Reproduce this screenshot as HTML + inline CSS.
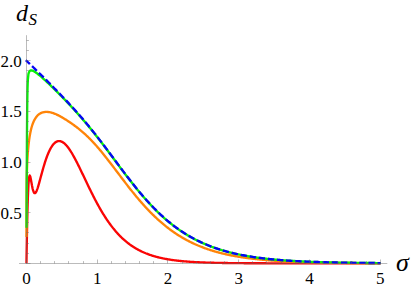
<!DOCTYPE html>
<html><head><meta charset="utf-8"><title>plot</title>
<style>html,body{margin:0;padding:0;background:#fff;}body{width:415px;height:290px;position:relative;overflow:hidden;font-family:"Liberation Serif",serif;}</style>
</head><body>
<svg width="415" height="290" viewBox="0 0 415 290" style="position:absolute;left:0;top:0">
<g fill="none" stroke-width="2.35" stroke-linejoin="round" stroke-linecap="butt">
<path d="M26.45 263.35 L26.45 263.35 L26.45 263.04 L26.46 262.73 L26.46 262.42 L26.47 262.10 L26.47 261.79 L26.48 261.45 L26.48 261.15 L26.49 260.80 L26.49 260.46 L26.50 260.08 L26.51 259.75 L26.51 259.38 L26.52 259.07 L26.52 258.75 L26.53 258.40 L26.53 258.02 L26.54 257.62 L26.55 257.18 L26.55 256.87 L26.56 256.55 L26.56 256.21 L26.57 255.86 L26.57 255.49 L26.58 255.10 L26.59 254.69 L26.59 254.26 L26.60 253.82 L26.61 253.35 L26.62 252.86 L26.63 252.34 L26.63 251.80 L26.64 251.24 L26.65 250.65 L26.66 250.35 L26.66 250.03 L26.67 249.71 L26.68 249.39 L26.68 249.06 L26.69 248.71 L26.69 248.37 L26.70 248.01 L26.71 247.64 L26.71 247.27 L26.72 246.89 L26.72 246.50 L26.73 246.10 L26.74 245.70 L26.75 245.28 L26.75 244.86 L26.76 244.43 L26.77 243.98 L26.78 243.53 L26.79 243.07 L26.79 242.60 L26.80 242.12 L26.81 241.62 L26.82 241.12 L26.83 240.61 L26.84 240.09 L26.85 239.56 L26.86 239.01 L26.87 238.46 L26.88 237.89 L26.89 237.32 L26.90 236.73 L26.91 236.13 L26.92 235.52 L26.94 234.89 L26.95 234.26 L26.96 233.61 L26.97 232.96 L26.99 232.29 L27.00 231.60 L27.01 230.91 L27.03 230.20 L27.04 229.48 L27.06 228.75 L27.07 228.01 L27.09 227.25 L27.11 226.49 L27.12 225.71 L27.14 224.91 L27.16 224.11 L27.17 223.29 L27.19 222.46 L27.21 221.62 L27.23 220.77 L27.25 219.91 L27.27 219.03 L27.29 218.14 L27.31 217.25 L27.33 216.34 L27.36 215.42 L27.38 214.49 L27.40 213.55 L27.42 212.60 L27.45 211.65 L27.47 210.68 L27.50 209.71 L27.53 208.73 L27.55 207.74 L27.58 206.75 L27.61 205.75 L27.64 204.74 L27.67 203.74 L27.70 202.73 L27.73 201.71 L27.76 200.70 L27.80 199.69 L27.83 198.67 L27.86 197.66 L28.45 184.44 L29.04 177.60 L29.63 175.45 L30.22 176.36 L30.81 178.97 L31.40 182.28 L31.99 185.58 L32.58 188.45 L33.17 190.69 L33.75 192.20 L34.34 193.01 L34.93 193.18 L35.52 192.78 L36.11 191.91 L36.70 190.67 L37.29 189.12 L37.88 187.34 L38.47 185.39 L39.05 183.32 L39.64 181.18 L40.23 179.00 L40.82 176.80 L41.41 174.61 L42.00 172.45 L42.59 170.33 L43.18 168.26 L43.77 166.24 L44.36 164.30 L44.94 162.42 L45.53 160.62 L46.12 158.89 L46.71 157.24 L47.30 155.68 L47.89 154.20 L48.48 152.79 L49.07 151.48 L49.66 150.24 L50.24 149.09 L50.83 148.01 L51.42 147.02 L52.01 146.11 L52.60 145.28 L53.19 144.53 L53.78 143.85 L54.37 143.26 L54.96 142.73 L55.55 142.29 L56.13 141.91 L56.72 141.60 L57.31 141.37 L57.90 141.20 L58.49 141.11 L59.08 141.07 L59.67 141.10 L60.26 141.19 L60.85 141.35 L61.43 141.56 L62.02 141.83 L62.61 142.15 L63.20 142.53 L63.79 142.96 L64.38 143.44 L64.97 143.97 L65.56 144.55 L66.15 145.17 L66.74 145.83 L67.32 146.54 L67.91 147.28 L68.50 148.07 L69.09 148.89 L69.68 149.74 L70.27 150.63 L70.86 151.55 L71.45 152.50 L72.04 153.47 L72.62 154.47 L73.21 155.50 L73.80 156.55 L74.39 157.62 L74.98 158.72 L75.57 159.83 L76.16 160.95 L76.75 162.10 L77.34 163.26 L77.93 164.43 L78.51 165.61 L79.10 166.81 L79.69 168.01 L80.28 169.22 L80.87 170.44 L81.46 171.66 L82.05 172.89 L82.64 174.12 L83.23 175.36 L83.81 176.60 L84.40 177.83 L84.99 179.07 L85.58 180.31 L86.17 181.55 L86.76 182.78 L87.35 184.01 L87.94 185.23 L88.53 186.45 L89.12 187.67 L89.70 188.88 L90.29 190.08 L90.88 191.28 L91.47 192.47 L92.06 193.65 L92.65 194.82 L93.24 195.98 L93.83 197.13 L94.42 198.27 L95.00 199.41 L95.59 200.53 L96.18 201.64 L96.77 202.74 L97.36 203.83 L97.95 204.90 L98.54 205.97 L99.13 207.02 L99.72 208.06 L100.31 209.09 L100.89 210.10 L101.48 211.11 L102.07 212.10 L102.66 213.07 L103.25 214.03 L103.84 214.98 L104.43 215.92 L105.02 216.84 L105.61 217.75 L106.20 218.65 L106.78 219.54 L107.37 220.41 L107.96 221.26 L108.55 222.11 L109.14 222.94 L109.73 223.75 L110.32 224.56 L110.91 225.35 L111.50 226.13 L112.08 226.89 L112.67 227.65 L113.26 228.39 L113.85 229.11 L114.44 229.83 L115.03 230.53 L115.62 231.22 L116.21 231.90 L116.80 232.56 L117.39 233.22 L117.97 233.86 L118.56 234.49 L119.15 235.11 L119.74 235.71 L120.33 236.31 L120.92 236.89 L121.51 237.47 L122.10 238.03 L122.69 238.58 L123.27 239.12 L123.86 239.65 L124.45 240.17 L125.04 240.68 L125.63 241.18 L126.22 241.67 L126.81 242.15 L127.40 242.63 L127.99 243.09 L128.58 243.54 L129.16 243.98 L129.75 244.42 L130.34 244.84 L130.93 245.26 L131.52 245.67 L132.11 246.07 L132.70 246.46 L133.29 246.84 L133.88 247.22 L134.46 247.58 L135.05 247.94 L135.64 248.30 L136.23 248.64 L136.82 248.98 L137.41 249.31 L138.00 249.63 L138.59 249.95 L139.18 250.26 L139.77 250.56 L140.35 250.85 L140.94 251.14 L141.53 251.43 L142.12 251.71 L142.71 251.98 L143.30 252.24 L143.89 252.50 L144.48 252.75 L145.07 253.00 L145.65 253.25 L146.24 253.48 L146.83 253.71 L147.42 253.94 L148.01 254.16 L148.60 254.38 L149.19 254.59 L149.78 254.80 L150.37 255.00 L150.96 255.20 L151.54 255.39 L152.13 255.58 L152.72 255.77 L153.31 255.95 L153.90 256.12 L154.49 256.30 L155.08 256.47 L155.67 256.63 L156.26 256.79 L156.84 256.95 L157.43 257.10 L158.02 257.25 L158.61 257.40 L159.20 257.54 L159.79 257.68 L160.38 257.82 L160.97 257.95 L161.56 258.08 L162.15 258.21 L162.73 258.33 L163.32 258.46 L163.91 258.57 L164.50 258.69 L165.09 258.80 L165.68 258.91 L166.27 259.02 L166.86 259.13 L167.45 259.23 L168.03 259.33 L168.62 259.43 L169.21 259.52 L169.80 259.62 L170.39 259.71 L170.98 259.80 L171.57 259.88 L172.16 259.97 L172.75 260.05 L173.34 260.13 L173.92 260.21 L174.51 260.29 L175.10 260.36 L175.69 260.44 L176.28 260.51 L176.87 260.58 L177.46 260.65 L178.05 260.71 L178.64 260.78 L179.22 260.84 L179.81 260.91 L180.40 260.97 L180.99 261.02 L181.58 261.08 L182.17 261.14 L182.76 261.19 L183.35 261.25 L183.94 261.30 L184.53 261.35 L185.11 261.40 L185.70 261.45 L186.29 261.50 L186.88 261.54 L187.47 261.59 L188.06 261.63 L188.65 261.67 L189.24 261.72 L189.83 261.76 L190.41 261.80 L191.00 261.84 L191.59 261.87 L192.18 261.91 L192.77 261.95 L193.36 261.98 L193.95 262.02 L194.54 262.05 L195.13 262.08 L195.72 262.11 L196.30 262.14 L196.89 262.17 L197.48 262.20 L198.07 262.23 L198.66 262.26 L199.25 262.29 L199.84 262.32 L200.43 262.34 L201.02 262.37 L201.60 262.39 L202.19 262.42 L202.78 262.44 L203.37 262.46 L203.96 262.48 L204.55 262.51 L205.14 262.53 L205.73 262.55 L206.32 262.57 L206.91 262.59 L207.49 262.61 L208.08 262.63 L208.67 262.65 L209.26 262.66 L209.85 262.68 L210.44 262.70 L211.03 262.71 L211.62 262.73 L212.21 262.75 L212.79 262.76 L213.38 262.78 L213.97 262.79 L214.56 262.81 L215.15 262.82 L215.74 262.83 L216.33 262.85 L216.92 262.86 L217.51 262.87 L218.10 262.88 L218.68 262.90 L219.27 262.91 L219.86 262.92 L220.45 262.93 L221.04 262.94 L221.63 262.95 L222.22 262.96 L222.81 262.97 L223.40 262.98 L223.98 262.99 L224.57 263.00 L225.16 263.01 L225.75 263.02 L226.34 263.03 L226.93 263.03 L227.52 263.04 L228.11 263.05 L228.70 263.06 L229.29 263.07 L229.87 263.07 L230.46 263.08 L231.05 263.09 L231.64 263.09 L232.23 263.10 L232.82 263.11 L233.41 263.11 L234.00 263.12 L234.59 263.12 L235.17 263.13 L235.76 263.14 L236.35 263.14 L236.94 263.15 L237.53 263.15 L238.12 263.16 L238.71 263.16 L239.30 263.17 L239.89 263.17 L240.48 263.18 L241.06 263.18 L241.65 263.19 L242.24 263.19 L242.83 263.19 L243.42 263.20 L244.01 263.20 L244.60 263.21 L245.19 263.21 L245.78 263.21 L246.36 263.22 L246.95 263.22 L247.54 263.22 L248.13 263.23 L248.72 263.23 L249.31 263.23 L249.90 263.24 L250.49 263.24 L251.08 263.24 L251.67 263.24 L252.25 263.25 L252.84 263.25 L253.43 263.25 L254.02 263.26 L254.61 263.26 L255.20 263.26 L255.79 263.26 L256.38 263.26 L256.97 263.27 L257.55 263.27 L258.14 263.27 L258.73 263.27 L259.32 263.28 L259.91 263.28 L260.50 263.28 L261.09 263.28 L261.68 263.28 L262.27 263.28 L262.86 263.29 L263.44 263.29 L264.03 263.29 L264.62 263.29 L265.21 263.29 L265.80 263.29 L266.39 263.30 L266.98 263.30 L267.57 263.30 L268.16 263.30 L268.74 263.30 L269.33 263.30 L269.92 263.30 L270.51 263.30 L271.10 263.31 L271.69 263.31 L272.28 263.31 L272.87 263.31 L273.46 263.31 L274.05 263.31 L274.63 263.31 L275.22 263.31 L275.81 263.31 L276.40 263.32 L276.99 263.32 L277.58 263.32 L278.17 263.32 L278.76 263.32 L279.35 263.32 L279.93 263.32 L280.52 263.32 L281.11 263.32 L281.70 263.32 L282.29 263.32 L282.88 263.32 L283.47 263.32 L284.06 263.33 L284.65 263.33 L285.24 263.33 L285.82 263.33 L286.41 263.33 L287.00 263.33 L287.59 263.33 L288.18 263.33 L288.77 263.33 L289.36 263.33 L289.95 263.33 L290.54 263.33 L291.12 263.33 L291.71 263.33 L292.30 263.33 L292.89 263.33 L293.48 263.33 L294.07 263.33 L294.66 263.33 L295.25 263.34 L295.84 263.34 L296.43 263.34 L297.01 263.34 L297.60 263.34 L298.19 263.34 L298.78 263.34 L299.37 263.34 L299.96 263.34 L300.55 263.34 L301.14 263.34 L301.73 263.34 L302.31 263.34 L302.90 263.34 L303.49 263.34 L304.08 263.34 L304.67 263.34 L305.26 263.34 L305.85 263.34 L306.44 263.34 L307.03 263.34 L307.62 263.34 L308.20 263.34 L308.79 263.34 L309.38 263.34 L309.97 263.34 L310.56 263.34 L311.15 263.34 L311.74 263.34 L312.33 263.34 L312.92 263.34 L313.51 263.34 L314.09 263.34 L314.68 263.34 L315.27 263.34 L315.86 263.34 L316.45 263.34 L317.04 263.34 L317.63 263.34 L318.22 263.34 L318.81 263.34 L319.39 263.35 L319.98 263.35 L320.57 263.35 L321.16 263.35 L321.75 263.35 L322.34 263.35 L322.93 263.35 L323.52 263.35 L324.11 263.35 L324.70 263.35 L325.28 263.35 L325.87 263.35 L326.46 263.35 L327.05 263.35 L327.64 263.35 L328.23 263.35 L328.82 263.35 L329.41 263.35 L330.00 263.35 L330.58 263.35 L331.17 263.35 L331.76 263.35 L332.35 263.35 L332.94 263.35 L333.53 263.35 L334.12 263.35 L334.71 263.35 L335.30 263.35 L335.89 263.35 L336.47 263.35 L337.06 263.35 L337.65 263.35 L338.24 263.35 L338.83 263.35 L339.42 263.35 L340.01 263.35 L340.60 263.35 L341.19 263.35 L341.77 263.35 L342.36 263.35 L342.95 263.35 L343.54 263.35 L344.13 263.35 L344.72 263.35 L345.31 263.35 L345.90 263.35 L346.49 263.35 L347.08 263.35 L347.66 263.35 L348.25 263.35 L348.84 263.35 L349.43 263.35 L350.02 263.35 L350.61 263.35 L351.20 263.35 L351.79 263.35 L352.38 263.35 L352.96 263.35 L353.55 263.35 L354.14 263.35 L354.73 263.35 L355.32 263.35 L355.91 263.35 L356.50 263.35 L357.09 263.35 L357.68 263.35 L358.27 263.35 L358.85 263.35 L359.44 263.35 L360.03 263.35 L360.62 263.35 L361.21 263.35 L361.80 263.35 L362.39 263.35 L362.98 263.35 L363.57 263.35 L364.15 263.35 L364.74 263.35 L365.33 263.35 L365.92 263.35 L366.51 263.35 L367.10 263.35 L367.69 263.35 L368.28 263.35 L368.87 263.35 L369.46 263.35 L370.04 263.35 L370.63 263.35 L371.22 263.35 L371.81 263.35 L372.40 263.35 L372.99 263.35 L373.58 263.35 L374.17 263.35 L374.76 263.35 L375.34 263.35 L375.93 263.35 L376.52 263.35 L377.11 263.35 L377.70 263.35 L378.29 263.35 L378.88 263.35 L379.47 263.35 L380.06 263.35 L380.65 263.35" stroke="#fa0505"/>
<path d="M26.49 236.98 L26.49 236.42 L26.49 235.85 L26.49 235.27 L26.49 234.68 L26.49 234.09 L26.50 233.48 L26.50 232.87 L26.50 232.25 L26.50 231.61 L26.50 230.97 L26.50 230.32 L26.50 229.66 L26.50 228.99 L26.51 228.31 L26.51 227.63 L26.51 226.93 L26.51 226.23 L26.51 225.52 L26.51 224.80 L26.52 224.07 L26.52 223.33 L26.52 222.59 L26.52 221.84 L26.52 221.08 L26.52 220.32 L26.53 219.55 L26.53 218.77 L26.53 217.99 L26.53 217.20 L26.53 216.41 L26.54 215.61 L26.54 214.80 L26.54 214.00 L26.54 213.18 L26.54 212.37 L26.55 211.55 L26.55 210.73 L26.55 209.91 L26.55 209.09 L26.56 208.26 L26.56 207.44 L26.56 206.61 L26.57 205.79 L26.57 204.97 L26.57 204.15 L26.57 203.33 L26.58 202.51 L26.58 201.70 L26.58 200.89 L26.59 200.09 L26.59 199.29 L26.59 198.50 L26.60 197.71 L26.60 196.94 L26.61 196.16 L26.61 195.40 L26.61 194.64 L26.62 193.90 L26.62 193.16 L26.63 192.43 L26.63 191.72 L26.63 191.01 L26.64 190.31 L26.64 189.63 L26.65 188.96 L26.65 188.30 L26.66 187.65 L26.66 187.01 L26.67 186.39 L26.68 185.77 L26.68 185.17 L26.69 184.58 L26.69 184.01 L26.70 183.44 L26.71 182.89 L26.71 182.35 L26.72 181.82 L26.72 181.30 L26.73 180.79 L26.74 180.29 L26.75 179.80 L26.75 179.32 L26.76 178.85 L26.77 178.39 L26.78 177.94 L26.79 177.49 L26.79 177.05 L26.80 176.61 L26.81 176.18 L26.82 175.76 L26.83 175.34 L26.84 174.92 L26.85 174.50 L26.86 174.09 L26.87 173.68 L26.88 173.28 L26.89 172.87 L26.90 172.47 L26.91 172.06 L26.92 171.66 L26.94 171.25 L26.95 170.85 L26.96 170.44 L26.97 170.03 L26.99 169.63 L27.00 169.22 L27.01 168.81 L27.03 168.39 L27.04 167.98 L27.06 167.56 L27.07 167.15 L27.09 166.73 L27.11 166.31 L27.12 165.89 L27.14 165.46 L27.16 165.04 L27.17 164.61 L27.19 164.18 L27.21 163.75 L27.23 163.31 L27.25 162.88 L27.27 162.44 L27.29 162.00 L27.31 161.56 L27.33 161.12 L27.36 160.68 L27.38 160.23 L27.40 159.78 L27.42 159.33 L27.45 158.88 L27.47 158.43 L27.50 157.97 L27.53 157.52 L27.55 157.06 L27.58 156.60 L27.61 156.14 L27.64 155.67 L27.67 155.21 L27.70 154.74 L27.73 154.27 L27.76 153.80 L27.80 153.33 L27.83 152.86 L27.86 152.38 L28.45 145.64 L29.04 140.55 L29.63 136.51 L30.22 133.20 L30.81 130.42 L31.40 128.05 L31.99 126.00 L32.58 124.23 L33.17 122.68 L33.75 121.31 L34.34 120.11 L34.93 119.03 L35.52 118.08 L36.11 117.23 L36.70 116.47 L37.29 115.79 L37.88 115.19 L38.47 114.66 L39.05 114.19 L39.64 113.78 L40.23 113.43 L40.82 113.12 L41.41 112.86 L42.00 112.63 L42.59 112.45 L43.18 112.29 L43.77 112.17 L44.36 112.07 L44.94 112.00 L45.53 111.95 L46.12 111.93 L46.71 111.92 L47.30 111.94 L47.89 111.98 L48.48 112.04 L49.07 112.12 L49.66 112.21 L50.24 112.32 L50.83 112.45 L51.42 112.60 L52.01 112.76 L52.60 112.94 L53.19 113.13 L53.78 113.34 L54.37 113.56 L54.96 113.79 L55.55 114.03 L56.13 114.29 L56.72 114.56 L57.31 114.84 L57.90 115.12 L58.49 115.42 L59.08 115.72 L59.67 116.04 L60.26 116.36 L60.85 116.68 L61.43 117.02 L62.02 117.35 L62.61 117.70 L63.20 118.05 L63.79 118.40 L64.38 118.76 L64.97 119.13 L65.56 119.50 L66.15 119.87 L66.74 120.25 L67.32 120.63 L67.91 121.01 L68.50 121.40 L69.09 121.79 L69.68 122.19 L70.27 122.59 L70.86 122.99 L71.45 123.40 L72.04 123.81 L72.62 124.22 L73.21 124.64 L73.80 125.07 L74.39 125.50 L74.98 125.93 L75.57 126.37 L76.16 126.81 L76.75 127.26 L77.34 127.71 L77.93 128.17 L78.51 128.64 L79.10 129.11 L79.69 129.58 L80.28 130.07 L80.87 130.56 L81.46 131.05 L82.05 131.55 L82.64 132.06 L83.23 132.57 L83.81 133.09 L84.40 133.62 L84.99 134.15 L85.58 134.69 L86.17 135.24 L86.76 135.79 L87.35 136.35 L87.94 136.92 L88.53 137.50 L89.12 138.08 L89.70 138.67 L90.29 139.26 L90.88 139.87 L91.47 140.48 L92.06 141.09 L92.65 141.71 L93.24 142.34 L93.83 142.98 L94.42 143.62 L95.00 144.27 L95.59 144.93 L96.18 145.59 L96.77 146.26 L97.36 146.93 L97.95 147.61 L98.54 148.29 L99.13 148.98 L99.72 149.68 L100.31 150.38 L100.89 151.09 L101.48 151.80 L102.07 152.52 L102.66 153.24 L103.25 153.96 L103.84 154.69 L104.43 155.43 L105.02 156.17 L105.61 156.91 L106.20 157.65 L106.78 158.40 L107.37 159.15 L107.96 159.91 L108.55 160.67 L109.14 161.43 L109.73 162.19 L110.32 162.96 L110.91 163.72 L111.50 164.49 L112.08 165.27 L112.67 166.04 L113.26 166.81 L113.85 167.59 L114.44 168.37 L115.03 169.15 L115.62 169.92 L116.21 170.70 L116.80 171.48 L117.39 172.26 L117.97 173.04 L118.56 173.82 L119.15 174.60 L119.74 175.38 L120.33 176.16 L120.92 176.94 L121.51 177.71 L122.10 178.49 L122.69 179.26 L123.27 180.04 L123.86 180.81 L124.45 181.58 L125.04 182.35 L125.63 183.11 L126.22 183.87 L126.81 184.64 L127.40 185.40 L127.99 186.15 L128.58 186.91 L129.16 187.66 L129.75 188.41 L130.34 189.15 L130.93 189.90 L131.52 190.64 L132.11 191.37 L132.70 192.11 L133.29 192.84 L133.88 193.56 L134.46 194.29 L135.05 195.01 L135.64 195.72 L136.23 196.43 L136.82 197.14 L137.41 197.84 L138.00 198.54 L138.59 199.24 L139.18 199.93 L139.77 200.62 L140.35 201.30 L140.94 201.98 L141.53 202.65 L142.12 203.32 L142.71 203.99 L143.30 204.65 L143.89 205.30 L144.48 205.96 L145.07 206.60 L145.65 207.24 L146.24 207.88 L146.83 208.51 L147.42 209.14 L148.01 209.76 L148.60 210.38 L149.19 211.00 L149.78 211.60 L150.37 212.21 L150.96 212.80 L151.54 213.40 L152.13 213.99 L152.72 214.57 L153.31 215.15 L153.90 215.72 L154.49 216.29 L155.08 216.85 L155.67 217.41 L156.26 217.96 L156.84 218.51 L157.43 219.06 L158.02 219.59 L158.61 220.13 L159.20 220.66 L159.79 221.18 L160.38 221.70 L160.97 222.21 L161.56 222.72 L162.15 223.22 L162.73 223.72 L163.32 224.21 L163.91 224.70 L164.50 225.19 L165.09 225.67 L165.68 226.14 L166.27 226.61 L166.86 227.07 L167.45 227.53 L168.03 227.99 L168.62 228.44 L169.21 228.88 L169.80 229.32 L170.39 229.76 L170.98 230.19 L171.57 230.62 L172.16 231.04 L172.75 231.46 L173.34 231.87 L173.92 232.28 L174.51 232.68 L175.10 233.08 L175.69 233.48 L176.28 233.87 L176.87 234.26 L177.46 234.64 L178.05 235.01 L178.64 235.39 L179.22 235.76 L179.81 236.12 L180.40 236.48 L180.99 236.84 L181.58 237.19 L182.17 237.54 L182.76 237.88 L183.35 238.22 L183.94 238.56 L184.53 238.89 L185.11 239.22 L185.70 239.54 L186.29 239.87 L186.88 240.18 L187.47 240.49 L188.06 240.80 L188.65 241.11 L189.24 241.41 L189.83 241.71 L190.41 242.00 L191.00 242.29 L191.59 242.58 L192.18 242.86 L192.77 243.15 L193.36 243.42 L193.95 243.70 L194.54 243.97 L195.13 244.23 L195.72 244.49 L196.30 244.75 L196.89 245.01 L197.48 245.26 L198.07 245.52 L198.66 245.76 L199.25 246.01 L199.84 246.25 L200.43 246.48 L201.02 246.72 L201.60 246.95 L202.19 247.18 L202.78 247.41 L203.37 247.63 L203.96 247.85 L204.55 248.07 L205.14 248.28 L205.73 248.49 L206.32 248.70 L206.91 248.91 L207.49 249.11 L208.08 249.31 L208.67 249.51 L209.26 249.70 L209.85 249.90 L210.44 250.09 L211.03 250.28 L211.62 250.46 L212.21 250.64 L212.79 250.83 L213.38 251.00 L213.97 251.18 L214.56 251.35 L215.15 251.52 L215.74 251.69 L216.33 251.86 L216.92 252.02 L217.51 252.19 L218.10 252.35 L218.68 252.50 L219.27 252.66 L219.86 252.81 L220.45 252.96 L221.04 253.11 L221.63 253.26 L222.22 253.41 L222.81 253.55 L223.40 253.69 L223.98 253.83 L224.57 253.97 L225.16 254.10 L225.75 254.24 L226.34 254.37 L226.93 254.50 L227.52 254.63 L228.11 254.75 L228.70 254.88 L229.29 255.00 L229.87 255.12 L230.46 255.24 L231.05 255.36 L231.64 255.48 L232.23 255.59 L232.82 255.71 L233.41 255.82 L234.00 255.93 L234.59 256.04 L235.17 256.14 L235.76 256.25 L236.35 256.35 L236.94 256.46 L237.53 256.56 L238.12 256.66 L238.71 256.76 L239.30 256.85 L239.89 256.95 L240.48 257.04 L241.06 257.14 L241.65 257.23 L242.24 257.32 L242.83 257.41 L243.42 257.49 L244.01 257.58 L244.60 257.67 L245.19 257.75 L245.78 257.83 L246.36 257.91 L246.95 258.00 L247.54 258.07 L248.13 258.15 L248.72 258.23 L249.31 258.31 L249.90 258.38 L250.49 258.45 L251.08 258.53 L251.67 258.60 L252.25 258.67 L252.84 258.74 L253.43 258.81 L254.02 258.88 L254.61 258.94 L255.20 259.01 L255.79 259.07 L256.38 259.14 L256.97 259.20 L257.55 259.26 L258.14 259.32 L258.73 259.38 L259.32 259.44 L259.91 259.50 L260.50 259.56 L261.09 259.62 L261.68 259.67 L262.27 259.73 L262.86 259.78 L263.44 259.84 L264.03 259.89 L264.62 259.94 L265.21 259.99 L265.80 260.04 L266.39 260.09 L266.98 260.14 L267.57 260.19 L268.16 260.24 L268.74 260.28 L269.33 260.33 L269.92 260.38 L270.51 260.42 L271.10 260.47 L271.69 260.51 L272.28 260.55 L272.87 260.59 L273.46 260.64 L274.05 260.68 L274.63 260.72 L275.22 260.76 L275.81 260.80 L276.40 260.84 L276.99 260.87 L277.58 260.91 L278.17 260.95 L278.76 260.99 L279.35 261.02 L279.93 261.06 L280.52 261.09 L281.11 261.13 L281.70 261.16 L282.29 261.19 L282.88 261.23 L283.47 261.26 L284.06 261.29 L284.65 261.32 L285.24 261.35 L285.82 261.38 L286.41 261.41 L287.00 261.44 L287.59 261.47 L288.18 261.50 L288.77 261.53 L289.36 261.56 L289.95 261.58 L290.54 261.61 L291.12 261.64 L291.71 261.66 L292.30 261.69 L292.89 261.72 L293.48 261.74 L294.07 261.76 L294.66 261.79 L295.25 261.81 L295.84 261.84 L296.43 261.86 L297.01 261.88 L297.60 261.91 L298.19 261.93 L298.78 261.95 L299.37 261.97 L299.96 261.99 L300.55 262.01 L301.14 262.03 L301.73 262.05 L302.31 262.07 L302.90 262.09 L303.49 262.11 L304.08 262.13 L304.67 262.15 L305.26 262.17 L305.85 262.19 L306.44 262.21 L307.03 262.22 L307.62 262.24 L308.20 262.26 L308.79 262.27 L309.38 262.29 L309.97 262.31 L310.56 262.32 L311.15 262.34 L311.74 262.36 L312.33 262.37 L312.92 262.39 L313.51 262.40 L314.09 262.42 L314.68 262.43 L315.27 262.44 L315.86 262.46 L316.45 262.47 L317.04 262.49 L317.63 262.50 L318.22 262.51 L318.81 262.53 L319.39 262.54 L319.98 262.55 L320.57 262.56 L321.16 262.58 L321.75 262.59 L322.34 262.60 L322.93 262.61 L323.52 262.62 L324.11 262.63 L324.70 262.64 L325.28 262.66 L325.87 262.67 L326.46 262.68 L327.05 262.69 L327.64 262.70 L328.23 262.71 L328.82 262.72 L329.41 262.73 L330.00 262.74 L330.58 262.75 L331.17 262.76 L331.76 262.77 L332.35 262.78 L332.94 262.78 L333.53 262.79 L334.12 262.80 L334.71 262.81 L335.30 262.82 L335.89 262.83 L336.47 262.84 L337.06 262.84 L337.65 262.85 L338.24 262.86 L338.83 262.87 L339.42 262.87 L340.01 262.88 L340.60 262.89 L341.19 262.90 L341.77 262.90 L342.36 262.91 L342.95 262.92 L343.54 262.92 L344.13 262.93 L344.72 262.94 L345.31 262.94 L345.90 262.95 L346.49 262.96 L347.08 262.96 L347.66 262.97 L348.25 262.97 L348.84 262.98 L349.43 262.99 L350.02 262.99 L350.61 263.00 L351.20 263.00 L351.79 263.01 L352.38 263.01 L352.96 263.02 L353.55 263.02 L354.14 263.03 L354.73 263.03 L355.32 263.04 L355.91 263.04 L356.50 263.05 L357.09 263.05 L357.68 263.06 L358.27 263.06 L358.85 263.07 L359.44 263.07 L360.03 263.08 L360.62 263.08 L361.21 263.09 L361.80 263.09 L362.39 263.09 L362.98 263.10 L363.57 263.10 L364.15 263.11 L364.74 263.11 L365.33 263.11 L365.92 263.12 L366.51 263.12 L367.10 263.12 L367.69 263.13 L368.28 263.13 L368.87 263.13 L369.46 263.14 L370.04 263.14 L370.63 263.14 L371.22 263.15 L371.81 263.15 L372.40 263.15 L372.99 263.16 L373.58 263.16 L374.17 263.16 L374.76 263.17 L375.34 263.17 L375.93 263.17 L376.52 263.18 L377.11 263.18 L377.70 263.18 L378.29 263.18 L378.88 263.19 L379.47 263.19 L380.06 263.19 L380.65 263.19" stroke="#ff8408"/>
<path d="M26.55 227.64 L26.56 226.82 L26.56 225.97 L26.56 225.11 L26.57 224.23 L26.57 223.33 L26.57 222.41 L26.57 221.48 L26.58 220.53 L26.58 219.55 L26.58 218.56 L26.59 217.55 L26.59 216.52 L26.59 215.46 L26.60 214.39 L26.60 213.30 L26.61 212.19 L26.61 211.05 L26.61 209.90 L26.62 208.72 L26.62 207.52 L26.63 206.31 L26.63 205.07 L26.63 203.80 L26.64 202.52 L26.64 201.21 L26.65 199.89 L26.65 198.54 L26.66 197.17 L26.66 195.77 L26.67 194.36 L26.68 192.92 L26.68 191.46 L26.69 189.98 L26.69 188.48 L26.70 186.95 L26.71 185.41 L26.71 183.84 L26.72 182.25 L26.72 180.65 L26.73 179.02 L26.74 177.37 L26.75 175.70 L26.75 174.02 L26.76 172.32 L26.77 170.59 L26.78 168.86 L26.79 167.10 L26.79 165.33 L26.80 163.54 L26.81 161.74 L26.82 159.93 L26.83 158.10 L26.84 156.27 L26.85 154.42 L26.86 152.56 L26.87 150.69 L26.88 148.82 L26.89 146.94 L26.90 145.06 L26.91 143.17 L26.92 141.28 L26.94 139.39 L26.95 137.50 L26.96 135.62 L26.97 133.74 L26.99 131.86 L27.00 129.99 L27.01 128.14 L27.03 126.29 L27.04 124.45 L27.06 122.63 L27.07 120.83 L27.09 119.04 L27.11 117.27 L27.12 115.53 L27.14 113.81 L27.16 112.11 L27.17 110.44 L27.19 108.80 L27.21 107.19 L27.23 105.61 L27.25 104.06 L27.27 102.55 L27.29 101.08 L27.31 99.64 L27.33 98.24 L27.36 96.88 L27.38 95.56 L27.40 94.28 L27.42 93.04 L27.45 91.85 L27.47 90.69 L27.50 89.59 L27.53 88.52 L27.55 87.50 L27.58 86.52 L27.61 85.59 L27.64 84.69 L27.67 83.84 L27.70 83.03 L27.73 82.26 L27.76 81.53 L27.80 80.84 L27.83 80.19 L27.86 79.57 L28.45 73.96 L29.04 72.04 L29.63 71.13 L30.22 70.67 L30.81 70.46 L31.40 70.43 L31.99 70.51 L32.58 70.68 L33.17 70.92 L33.75 71.20 L34.34 71.53 L34.93 71.89 L35.52 72.28 L36.11 72.69 L36.70 73.12 L37.29 73.56 L37.88 74.02 L38.47 74.49 L39.05 74.97 L39.64 75.46 L40.23 75.96 L40.82 76.46 L41.41 76.97 L42.00 77.49 L42.59 78.01 L43.18 78.54 L43.77 79.07 L44.36 79.61 L44.94 80.15 L45.53 80.69 L46.12 81.23 L46.71 81.78 L47.30 82.34 L47.89 82.89 L48.48 83.45 L49.07 84.01 L49.66 84.57 L50.24 85.14 L50.83 85.71 L51.42 86.28 L52.01 86.85 L52.60 87.42 L53.19 88.00 L53.78 88.58 L54.37 89.16 L54.96 89.74 L55.55 90.32 L56.13 90.91 L56.72 91.50 L57.31 92.08 L57.90 92.68 L58.49 93.27 L59.08 93.86 L59.67 94.46 L60.26 95.06 L60.85 95.66 L61.43 96.26 L62.02 96.86 L62.61 97.47 L63.20 98.07 L63.79 98.68 L64.38 99.29 L64.97 99.90 L65.56 100.52 L66.15 101.13 L66.74 101.75 L67.32 102.37 L67.91 102.99 L68.50 103.62 L69.09 104.24 L69.68 104.87 L70.27 105.50 L70.86 106.13 L71.45 106.76 L72.04 107.40 L72.62 108.04 L73.21 108.68 L73.80 109.32 L74.39 109.96 L74.98 110.61 L75.57 111.26 L76.16 111.91 L76.75 112.57 L77.34 113.22 L77.93 113.88 L78.51 114.54 L79.10 115.21 L79.69 115.87 L80.28 116.54 L80.87 117.22 L81.46 117.89 L82.05 118.57 L82.64 119.25 L83.23 119.93 L83.81 120.62 L84.40 121.31 L84.99 122.00 L85.58 122.69 L86.17 123.39 L86.76 124.09 L87.35 124.80 L87.94 125.50 L88.53 126.21 L89.12 126.92 L89.70 127.64 L90.29 128.36 L90.88 129.08 L91.47 129.80 L92.06 130.53 L92.65 131.26 L93.24 131.99 L93.83 132.73 L94.42 133.47 L95.00 134.21 L95.59 134.95 L96.18 135.70 L96.77 136.44 L97.36 137.20 L97.95 137.95 L98.54 138.71 L99.13 139.47 L99.72 140.23 L100.31 140.99 L100.89 141.75 L101.48 142.52 L102.07 143.29 L102.66 144.06 L103.25 144.84 L103.84 145.61 L104.43 146.39 L105.02 147.17 L105.61 147.95 L106.20 148.73 L106.78 149.51 L107.37 150.30 L107.96 151.08 L108.55 151.87 L109.14 152.66 L109.73 153.45 L110.32 154.24 L110.91 155.03 L111.50 155.82 L112.08 156.61 L112.67 157.40 L113.26 158.19 L113.85 158.98 L114.44 159.78 L115.03 160.57 L115.62 161.36 L116.21 162.15 L116.80 162.94 L117.39 163.74 L117.97 164.53 L118.56 165.32 L119.15 166.10 L119.74 166.89 L120.33 167.68 L120.92 168.47 L121.51 169.25 L122.10 170.04 L122.69 170.82 L123.27 171.60 L123.86 172.38 L124.45 173.16 L125.04 173.93 L125.63 174.71 L126.22 175.48 L126.81 176.25 L127.40 177.02 L127.99 177.78 L128.58 178.55 L129.16 179.31 L129.75 180.07 L130.34 180.82 L130.93 181.57 L131.52 182.33 L132.11 183.07 L132.70 183.82 L133.29 184.56 L133.88 185.30 L134.46 186.03 L135.05 186.77 L135.64 187.50 L136.23 188.22 L136.82 188.95 L137.41 189.66 L138.00 190.38 L138.59 191.09 L139.18 191.80 L139.77 192.51 L140.35 193.21 L140.94 193.90 L141.53 194.60 L142.12 195.29 L142.71 195.97 L143.30 196.65 L143.89 197.33 L144.48 198.01 L145.07 198.68 L145.65 199.34 L146.24 200.00 L146.83 200.66 L147.42 201.31 L148.01 201.96 L148.60 202.60 L149.19 203.24 L149.78 203.88 L150.37 204.51 L150.96 205.14 L151.54 205.76 L152.13 206.38 L152.72 206.99 L153.31 207.60 L153.90 208.20 L154.49 208.80 L155.08 209.40 L155.67 209.99 L156.26 210.57 L156.84 211.15 L157.43 211.73 L158.02 212.30 L158.61 212.87 L159.20 213.43 L159.79 213.99 L160.38 214.55 L160.97 215.10 L161.56 215.64 L162.15 216.18 L162.73 216.72 L163.32 217.25 L163.91 217.77 L164.50 218.29 L165.09 218.81 L165.68 219.32 L166.27 219.83 L166.86 220.33 L167.45 220.83 L168.03 221.33 L168.62 221.82 L169.21 222.30 L169.80 222.78 L170.39 223.26 L170.98 223.73 L171.57 224.20 L172.16 224.66 L172.75 225.12 L173.34 225.57 L173.92 226.02 L174.51 226.47 L175.10 226.91 L175.69 227.34 L176.28 227.78 L176.87 228.20 L177.46 228.63 L178.05 229.05 L178.64 229.46 L179.22 229.87 L179.81 230.28 L180.40 230.68 L180.99 231.08 L181.58 231.47 L182.17 231.86 L182.76 232.25 L183.35 232.63 L183.94 233.01 L184.53 233.38 L185.11 233.76 L185.70 234.12 L186.29 234.48 L186.88 234.84 L187.47 235.20 L188.06 235.55 L188.65 235.89 L189.24 236.24 L189.83 236.58 L190.41 236.91 L191.00 237.24 L191.59 237.57 L192.18 237.90 L192.77 238.22 L193.36 238.54 L193.95 238.85 L194.54 239.16 L195.13 239.47 L195.72 239.77 L196.30 240.07 L196.89 240.37 L197.48 240.66 L198.07 240.95 L198.66 241.24 L199.25 241.52 L199.84 241.80 L200.43 242.08 L201.02 242.35 L201.60 242.62 L202.19 242.89 L202.78 243.15 L203.37 243.42 L203.96 243.67 L204.55 243.93 L205.14 244.18 L205.73 244.43 L206.32 244.68 L206.91 244.92 L207.49 245.16 L208.08 245.40 L208.67 245.63 L209.26 245.86 L209.85 246.09 L210.44 246.32 L211.03 246.54 L211.62 246.76 L212.21 246.98 L212.79 247.20 L213.38 247.41 L213.97 247.62 L214.56 247.83 L215.15 248.03 L215.74 248.24 L216.33 248.44 L216.92 248.64 L217.51 248.83 L218.10 249.02 L218.68 249.21 L219.27 249.40 L219.86 249.59 L220.45 249.77 L221.04 249.95 L221.63 250.13 L222.22 250.31 L222.81 250.48 L223.40 250.66 L223.98 250.83 L224.57 250.99 L225.16 251.16 L225.75 251.32 L226.34 251.49 L226.93 251.65 L227.52 251.80 L228.11 251.96 L228.70 252.11 L229.29 252.27 L229.87 252.42 L230.46 252.56 L231.05 252.71 L231.64 252.85 L232.23 253.00 L232.82 253.14 L233.41 253.28 L234.00 253.41 L234.59 253.55 L235.17 253.68 L235.76 253.81 L236.35 253.94 L236.94 254.07 L237.53 254.20 L238.12 254.32 L238.71 254.45 L239.30 254.57 L239.89 254.69 L240.48 254.81 L241.06 254.93 L241.65 255.04 L242.24 255.15 L242.83 255.27 L243.42 255.38 L244.01 255.49 L244.60 255.60 L245.19 255.70 L245.78 255.81 L246.36 255.91 L246.95 256.02 L247.54 256.12 L248.13 256.22 L248.72 256.32 L249.31 256.41 L249.90 256.51 L250.49 256.60 L251.08 256.70 L251.67 256.79 L252.25 256.88 L252.84 256.97 L253.43 257.06 L254.02 257.15 L254.61 257.23 L255.20 257.32 L255.79 257.40 L256.38 257.49 L256.97 257.57 L257.55 257.65 L258.14 257.73 L258.73 257.81 L259.32 257.88 L259.91 257.96 L260.50 258.04 L261.09 258.11 L261.68 258.18 L262.27 258.26 L262.86 258.33 L263.44 258.40 L264.03 258.47 L264.62 258.54 L265.21 258.60 L265.80 258.67 L266.39 258.74 L266.98 258.80 L267.57 258.86 L268.16 258.93 L268.74 258.99 L269.33 259.05 L269.92 259.11 L270.51 259.17 L271.10 259.23 L271.69 259.29 L272.28 259.35 L272.87 259.40 L273.46 259.46 L274.05 259.51 L274.63 259.57 L275.22 259.62 L275.81 259.67 L276.40 259.73 L276.99 259.78 L277.58 259.83 L278.17 259.88 L278.76 259.93 L279.35 259.98 L279.93 260.02 L280.52 260.07 L281.11 260.12 L281.70 260.16 L282.29 260.21 L282.88 260.25 L283.47 260.30 L284.06 260.34 L284.65 260.38 L285.24 260.43 L285.82 260.47 L286.41 260.51 L287.00 260.55 L287.59 260.59 L288.18 260.63 L288.77 260.67 L289.36 260.71 L289.95 260.74 L290.54 260.78 L291.12 260.82 L291.71 260.86 L292.30 260.89 L292.89 260.93 L293.48 260.96 L294.07 261.00 L294.66 261.03 L295.25 261.06 L295.84 261.09 L296.43 261.13 L297.01 261.16 L297.60 261.19 L298.19 261.22 L298.78 261.25 L299.37 261.28 L299.96 261.31 L300.55 261.34 L301.14 261.37 L301.73 261.40 L302.31 261.43 L302.90 261.45 L303.49 261.48 L304.08 261.51 L304.67 261.54 L305.26 261.56 L305.85 261.59 L306.44 261.61 L307.03 261.64 L307.62 261.66 L308.20 261.69 L308.79 261.71 L309.38 261.74 L309.97 261.76 L310.56 261.78 L311.15 261.80 L311.74 261.83 L312.33 261.85 L312.92 261.87 L313.51 261.89 L314.09 261.91 L314.68 261.93 L315.27 261.95 L315.86 261.97 L316.45 261.99 L317.04 262.01 L317.63 262.03 L318.22 262.05 L318.81 262.07 L319.39 262.09 L319.98 262.11 L320.57 262.13 L321.16 262.14 L321.75 262.16 L322.34 262.18 L322.93 262.20 L323.52 262.21 L324.11 262.23 L324.70 262.25 L325.28 262.26 L325.87 262.28 L326.46 262.29 L327.05 262.31 L327.64 262.32 L328.23 262.34 L328.82 262.35 L329.41 262.37 L330.00 262.38 L330.58 262.40 L331.17 262.41 L331.76 262.42 L332.35 262.44 L332.94 262.45 L333.53 262.46 L334.12 262.48 L334.71 262.49 L335.30 262.50 L335.89 262.52 L336.47 262.53 L337.06 262.54 L337.65 262.55 L338.24 262.56 L338.83 262.58 L339.42 262.59 L340.01 262.60 L340.60 262.61 L341.19 262.62 L341.77 262.63 L342.36 262.64 L342.95 262.65 L343.54 262.66 L344.13 262.67 L344.72 262.68 L345.31 262.69 L345.90 262.70 L346.49 262.71 L347.08 262.72 L347.66 262.73 L348.25 262.74 L348.84 262.75 L349.43 262.76 L350.02 262.77 L350.61 262.77 L351.20 262.78 L351.79 262.79 L352.38 262.80 L352.96 262.81 L353.55 262.82 L354.14 262.82 L354.73 262.83 L355.32 262.84 L355.91 262.85 L356.50 262.85 L357.09 262.86 L357.68 262.87 L358.27 262.88 L358.85 262.88 L359.44 262.89 L360.03 262.90 L360.62 262.90 L361.21 262.91 L361.80 262.92 L362.39 262.92 L362.98 262.93 L363.57 262.93 L364.15 262.94 L364.74 262.95 L365.33 262.95 L365.92 262.96 L366.51 262.96 L367.10 262.97 L367.69 262.98 L368.28 262.98 L368.87 262.99 L369.46 262.99 L370.04 263.00 L370.63 263.00 L371.22 263.01 L371.81 263.01 L372.40 263.02 L372.99 263.02 L373.58 263.03 L374.17 263.03 L374.76 263.04 L375.34 263.04 L375.93 263.05 L376.52 263.05 L377.11 263.06 L377.70 263.06 L378.29 263.06 L378.88 263.07 L379.47 263.07 L380.06 263.08 L380.65 263.08" stroke="#0aee0a"/>
<path d="M25.86 60.21 L26.46 60.76 L26.58 60.87 L26.70 60.99 L26.82 61.11 L26.94 61.22 L27.07 61.34 L27.19 61.45 L27.31 61.57 L27.43 61.69 L27.55 61.80 L27.67 61.92 L27.80 62.04 L27.92 62.15 L28.04 62.27 L28.16 62.39 L28.28 62.50 L28.40 62.62 L28.53 62.74 L28.65 62.85 L28.77 62.97 L28.89 63.09 L29.01 63.20 L29.13 63.32 L29.26 63.44 L29.38 63.55 L29.50 63.67 L29.62 63.79 L29.74 63.90 L29.87 64.02 L29.92 64.08 M32.04 66.12 L32.33 66.39 L33.50 67.53 L34.67 68.66 L35.84 69.80 L36.83 70.76 M38.93 72.82 L39.36 73.23 L40.53 74.38 L41.70 75.54 L42.87 76.69 L43.69 77.50 M45.77 79.58 L46.38 80.18 L47.55 81.35 L48.72 82.53 L49.90 83.70 L50.49 84.31 M52.57 86.40 L53.41 87.26 L54.58 88.45 L55.75 89.65 L56.92 90.85 L57.24 91.18 M59.29 93.30 L60.44 94.49 L61.61 95.71 L62.78 96.94 L63.92 98.14 M65.95 100.29 L66.29 100.66 L67.46 101.91 L68.63 103.17 L69.80 104.43 L70.52 105.20 M72.51 107.39 L73.32 108.27 L74.49 109.56 L75.66 110.87 L76.83 112.18 L77.01 112.38 M78.97 114.60 L79.17 114.84 L80.34 116.18 L81.52 117.53 L82.69 118.89 L83.37 119.70 M85.29 121.96 L86.20 123.05 L87.37 124.45 L88.54 125.87 L89.60 127.16 M91.48 129.47 L92.06 130.19 L93.23 131.65 L94.40 133.12 L95.57 134.60 L95.69 134.76 M97.53 137.11 L97.91 137.60 L99.08 139.11 L100.25 140.63 L101.42 142.16 L101.66 142.47 M103.47 144.85 L103.77 145.24 L104.94 146.79 L106.11 148.35 L107.28 149.91 L107.55 150.27 M109.34 152.67 L109.62 153.05 L110.79 154.62 L111.96 156.20 L113.14 157.78 L113.38 158.11 M115.17 160.51 L115.48 160.93 L116.65 162.51 L117.82 164.08 L118.99 165.66 L119.22 165.96 M121.01 168.36 L121.33 168.79 L122.50 170.35 L123.68 171.90 L124.85 173.45 L125.09 173.77 M126.90 176.15 L127.19 176.52 L128.36 178.05 L129.53 179.56 L130.70 181.07 L131.04 181.50 M132.89 183.84 L133.05 184.04 L134.22 185.51 L135.39 186.97 L136.56 188.41 L137.13 189.11 M139.02 191.41 L140.07 192.66 L141.24 194.05 L142.41 195.43 L143.38 196.54 M145.33 198.78 L145.93 199.45 L147.10 200.76 L148.27 202.05 L149.44 203.32 L149.84 203.75 M151.87 205.90 L152.95 207.04 L154.13 208.24 L155.30 209.43 L156.47 210.60 L156.55 210.68 M158.66 212.73 L158.81 212.88 L159.98 213.99 L161.15 215.09 L162.32 216.16 L163.49 217.22 L163.53 217.26 M165.73 219.19 L165.84 219.29 L167.01 220.29 L168.18 221.28 L169.35 222.25 L170.52 223.20 L170.81 223.43 M173.10 225.23 L174.03 225.95 L175.21 226.83 L176.38 227.69 L177.55 228.54 L178.39 229.13 M180.77 230.78 L181.06 230.98 L182.23 231.76 L183.40 232.53 L184.57 233.28 L185.75 234.01 L186.26 234.32 M188.72 235.80 L189.26 236.12 L190.43 236.79 L191.60 237.45 L192.77 238.09 L193.94 238.72 L194.40 238.96 M196.94 240.27 L197.46 240.53 L198.63 241.11 L199.80 241.67 L200.97 242.22 L202.14 242.75 L202.78 243.04 M205.39 244.18 L205.65 244.29 L206.83 244.78 L208.00 245.26 L209.17 245.73 L210.34 246.18 L211.37 246.57 M214.03 247.55 L215.02 247.90 L216.19 248.30 L217.37 248.70 L218.54 249.08 L219.71 249.45 L220.11 249.58 M222.81 250.40 L223.22 250.52 L224.39 250.86 L225.56 251.19 L226.73 251.52 L227.91 251.83 L228.97 252.11 M231.70 252.80 L232.59 253.01 L233.76 253.29 L234.93 253.56 L236.10 253.82 L237.27 254.08 L237.92 254.22 M240.67 254.79 L240.79 254.81 L241.96 255.04 L243.13 255.27 L244.30 255.49 L245.47 255.70 L246.64 255.91 L246.94 255.96 M249.70 256.43 L250.16 256.50 L251.33 256.69 L252.50 256.87 L253.67 257.05 L254.84 257.22 L255.99 257.39 M258.77 257.77 L259.53 257.87 L260.70 258.02 L261.87 258.17 L263.04 258.31 L264.21 258.45 L265.08 258.55 M267.87 258.86 L268.89 258.97 L270.07 259.09 L271.24 259.21 L272.41 259.33 L273.58 259.44 L274.19 259.49 M276.99 259.75 L277.09 259.76 L278.26 259.86 L279.43 259.95 L280.61 260.05 L281.78 260.14 L282.95 260.23 L283.32 260.26 M286.11 260.46 L286.46 260.49 L287.63 260.57 L288.80 260.65 L289.97 260.72 L291.15 260.80 L292.32 260.87 L292.45 260.88 M295.25 261.04 L295.83 261.07 L297.00 261.14 L298.17 261.20 L299.34 261.26 L300.51 261.32 L301.59 261.37 M304.39 261.51 L305.20 261.54 L306.37 261.59 L307.54 261.64 L308.71 261.69 L309.88 261.74 L310.73 261.77 M313.53 261.88 L314.57 261.92 L315.74 261.96 L316.91 262.00 L318.08 262.04 L319.25 262.07 L319.88 262.09 M322.68 262.18 L322.77 262.18 L323.94 262.21 L325.11 262.25 L326.28 262.28 L327.45 262.31 L328.62 262.34 L329.03 262.35 M331.83 262.42 L332.13 262.42 L333.31 262.45 L334.48 262.48 L335.65 262.50 L336.82 262.53 L337.99 262.55 L338.17 262.55 M340.97 262.61 L341.50 262.62 L342.67 262.64 L343.85 262.66 L345.02 262.68 L346.19 262.70 L347.32 262.72 M350.12 262.76 L350.87 262.77 L352.04 262.79 L353.21 262.80 L354.39 262.82 L355.56 262.84 L356.47 262.85 M359.27 262.88 L360.24 262.89 L361.41 262.91 L362.58 262.92 L363.75 262.93 L364.93 262.94 L365.62 262.95 M368.42 262.98 L368.44 262.98 L369.61 262.99 L370.78 263.00 L371.95 263.01 L373.12 263.02 L374.29 263.03 L374.77 263.03 M377.57 263.06 L377.81 263.06 L378.98 263.07 L380.15 263.07 L380.65 263.07" stroke="#0505f5"/>
</g>
<g stroke="#666666" stroke-width="0.45" fill="none">
<path d="M19 263.5 H387.3"/>
<path d="M26.5 35.2 V263.5"/>
<path d="M26.50 263.5 v-4.0"/>
<path d="M40.50 263.5 v-2.4"/>
<path d="M54.50 263.5 v-2.4"/>
<path d="M68.50 263.5 v-2.4"/>
<path d="M83.50 263.5 v-2.4"/>
<path d="M97.50 263.5 v-4.0"/>
<path d="M111.50 263.5 v-2.4"/>
<path d="M125.50 263.5 v-2.4"/>
<path d="M139.50 263.5 v-2.4"/>
<path d="M153.50 263.5 v-2.4"/>
<path d="M167.50 263.5 v-4.0"/>
<path d="M182.50 263.5 v-2.4"/>
<path d="M196.50 263.5 v-2.4"/>
<path d="M210.50 263.5 v-2.4"/>
<path d="M224.50 263.5 v-2.4"/>
<path d="M238.50 263.5 v-4.0"/>
<path d="M252.50 263.5 v-2.4"/>
<path d="M266.50 263.5 v-2.4"/>
<path d="M281.50 263.5 v-2.4"/>
<path d="M295.50 263.5 v-2.4"/>
<path d="M309.50 263.5 v-4.0"/>
<path d="M323.50 263.5 v-2.4"/>
<path d="M337.50 263.5 v-2.4"/>
<path d="M351.50 263.5 v-2.4"/>
<path d="M366.50 263.5 v-2.4"/>
<path d="M380.50 263.5 v-4.0"/>
<path d="M26.5 263.50 h4.0"/>
<path d="M26.5 253.50 h2.4"/>
<path d="M26.5 243.50 h2.4"/>
<path d="M26.5 232.50 h2.4"/>
<path d="M26.5 222.50 h2.4"/>
<path d="M26.5 212.50 h4.0"/>
<path d="M26.5 202.50 h2.4"/>
<path d="M26.5 192.50 h2.4"/>
<path d="M26.5 182.50 h2.4"/>
<path d="M26.5 172.50 h2.4"/>
<path d="M26.5 162.50 h4.0"/>
<path d="M26.5 151.50 h2.4"/>
<path d="M26.5 141.50 h2.4"/>
<path d="M26.5 131.50 h2.4"/>
<path d="M26.5 121.50 h2.4"/>
<path d="M26.5 111.50 h4.0"/>
<path d="M26.5 101.50 h2.4"/>
<path d="M26.5 91.50 h2.4"/>
<path d="M26.5 81.50 h2.4"/>
<path d="M26.5 70.50 h2.4"/>
<path d="M26.5 60.50 h4.0"/>
<path d="M26.5 50.50 h2.4"/>
<path d="M26.5 40.50 h2.4"/>
</g>
<g fill="#000" font-family="'Liberation Serif', serif" font-size="17">
<text x="21.8" y="218.6" text-anchor="end">0.5</text>
<text x="21.8" y="168" text-anchor="end">1.0</text>
<text x="21.8" y="117.35" text-anchor="end">1.5</text>
<text x="21.8" y="66.7" text-anchor="end">2.0</text>
<text x="26.5" y="283.55" text-anchor="middle">0</text>
<text x="97.3" y="283.55" text-anchor="middle">1</text>
<text x="168" y="283.55" text-anchor="middle">2</text>
<text x="238.8" y="283.55" text-anchor="middle">3</text>
<text x="309.5" y="283.55" text-anchor="middle">4</text>
<text x="380.3" y="283.55" text-anchor="middle">5</text>
<text x="16" y="20.9" font-size="24" font-style="italic">d</text>
<text x="28.6" y="24.7" font-size="17" font-style="italic">S</text>
<text x="396" y="271" font-size="26" font-style="italic">σ</text>
</g>
</svg>
</body></html>
